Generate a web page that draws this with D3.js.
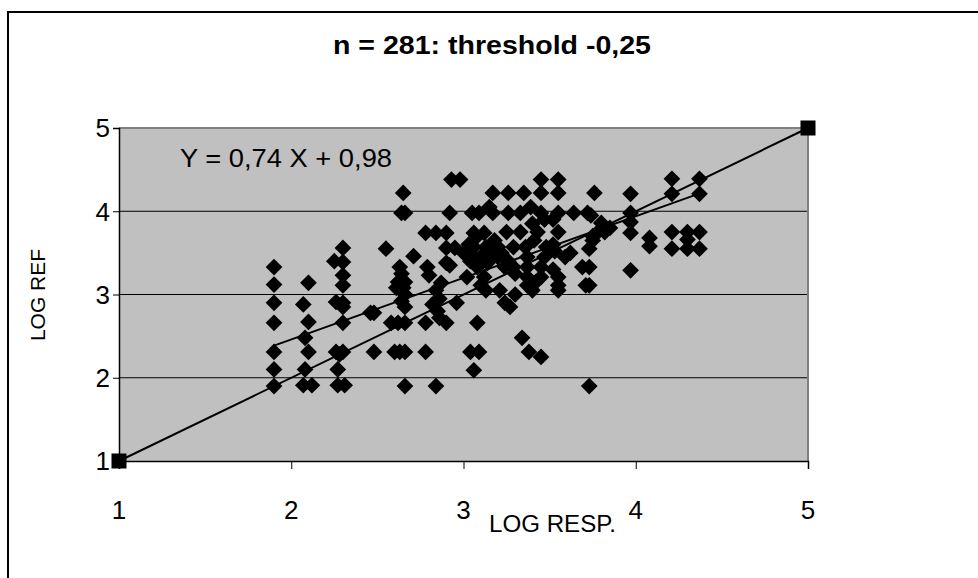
<!DOCTYPE html>
<html>
<head>
<meta charset="utf-8">
<script src="https://cdn.jsdelivr.net/npm/d3@7"></script>
<style>
  body { margin: 0; background: #fff; }
  text { font-family: Arial, "Liberation Sans", sans-serif; fill: #000; }
</style>
</head>
<body>
<script>
// values (LOG RESP. / LOG REF)
var respX = [
  1.90,1.90,1.90,1.90,1.90,1.90,1.90,
  2.10,2.07,2.10,2.08,2.10,2.08,2.07,2.12,
  2.30,2.25,2.30,2.30,2.30,2.26,2.30,2.30,2.30,2.26,2.30,2.28,2.27,2.27,2.31,
  2.46,2.48,2.48,2.55,
  2.58,2.62,2.66,2.60,2.63,2.66,2.66,2.63,2.64,2.62,2.66,2.61,2.65,2.66,2.64,2.66,2.64,2.66,2.65,2.71,
  2.78,2.84,2.90,2.79,2.80,2.78,2.78,2.84,2.90,2.87,2.84,2.86,2.82,2.85,2.86,2.90,2.96,2.90,
  2.93,2.98,2.92,2.95,2.92,
  3.05,3.09,3.06,3.12,3.06,3.13,3.06,3.10,3.08,3.04,3.02,3.12,3.10,3.13,3.08,3.04,3.09,3.06,3.00,3.03,3.07,3.15,3.15,3.14,
  3.17,3.26,3.17,3.26,3.25,3.20,3.29,3.20,3.24,3.29,3.21,3.24,3.27,3.22,3.18,3.30,3.30,3.26,
  3.35,3.45,3.45,3.33,3.45,3.39,3.33,3.43,3.36,3.48,3.37,3.47,3.37,3.45,3.37,3.45,3.37,3.40,3.34,3.38,3.45,3.40,3.47,3.41,3.42,
  3.55,3.55,3.55,3.55,3.52,3.55,3.55,3.55,3.59,3.53,3.52,3.52,
  3.64,3.72,3.62,3.76,3.69,3.73,3.71,3.73,3.73,3.73,3.75,3.80,3.78,3.82,3.85,3.75,3.74,
  3.97,3.97,3.97,3.97,3.97,
  4.08,4.08,
  4.21,4.21,4.21,4.21,
  4.30,4.30,4.30,
  4.37,4.37,4.37,4.37
];
var refY = [
  3.33,3.12,2.90,2.66,2.31,2.10,1.90,
  3.14,2.88,2.67,2.48,2.31,2.10,1.91,1.91,
  3.56,3.40,3.39,3.23,3.11,2.91,2.90,2.85,2.66,2.31,2.31,2.28,2.10,1.91,1.91,
  2.78,2.78,2.31,3.55,
  2.66,2.66,2.66,2.31,2.31,2.31,1.90,3.33,3.25,3.15,3.15,3.08,3.08,3.00,2.92,2.85,3.98,3.98,4.22,3.46,
  3.74,3.74,3.74,3.33,3.23,2.66,2.31,1.90,3.38,3.14,3.05,2.95,2.88,2.80,2.72,2.66,2.90,3.56,
  4.38,4.38,3.98,3.56,3.35,
  3.98,3.98,3.74,3.74,3.57,3.57,3.45,3.45,3.33,3.40,3.21,3.21,3.11,3.05,2.66,2.31,2.31,2.09,3.50,3.60,3.68,4.05,3.52,3.38,
  4.22,4.22,3.98,3.98,3.75,3.57,3.57,3.45,3.33,3.33,3.05,2.90,2.85,3.50,3.65,3.25,3.00,3.40,
  4.22,4.38,4.22,3.98,3.98,4.05,3.75,3.75,3.57,3.57,3.45,3.45,3.33,3.33,3.21,3.21,3.11,3.05,2.48,2.31,2.25,3.85,3.90,3.65,3.15,
  4.38,4.22,3.98,3.75,3.60,3.21,3.11,3.05,3.45,3.52,3.90,3.30,
  3.98,3.98,3.50,4.22,3.33,3.33,3.11,3.11,1.90,3.55,3.70,3.86,3.75,3.75,3.80,3.65,3.95,
  4.21,3.98,3.87,3.74,3.29,
  3.68,3.58,
  4.39,4.21,3.75,3.55,
  3.75,3.66,3.55,
  4.39,4.21,3.75,3.55
];
var axisTicks = [1, 2, 3, 4, 5];
var identity = [[1, 1], [5, 5]];
var slope = 0.74, intercept = 0.98, fitFrom = 1.90, fitTo = 4.38;
var titleText = "n = 281: threshold -0,25";
var fitLabel = "Y = 0,74 X + 0,98";

var width = 978, height = 578;

var svg = d3.select("body").append("svg")
    .attr("width", width)
    .attr("height", height);

// chart frame
svg.append("rect")
    .attr("x", 8).attr("y", 12)
    .attr("width", 1000).attr("height", 700)
    .attr("fill", "#fff")
    .attr("stroke", "#000")
    .attr("stroke-width", 2);

var x = d3.scaleLinear().domain([1, 5]).range([119, 808]);
var y = d3.scaleLinear().domain([1, 5]).range([461, 128]);

// plot area
svg.append("rect")
    .attr("x", x(1)).attr("y", y(5))
    .attr("width", x(5) - x(1)).attr("height", y(1) - y(5))
    .attr("fill", "#c0c0c0");

// gridlines
svg.selectAll(".grid")
    .data([2, 3, 4])
    .enter().append("line")
    .attr("x1", x(1)).attr("x2", x(5))
    .attr("y1", function(d){ return y(d); })
    .attr("y2", function(d){ return y(d); })
    .attr("stroke", "#000")
    .attr("stroke-width", 1);

// grey top / right border of plot area
svg.append("path")
    .attr("d", "M" + x(1) + "," + y(5) + "H" + x(5) + "V" + y(1))
    .attr("fill", "none")
    .attr("stroke", "#808080")
    .attr("stroke-width", 2);

// axes
var xAxis = svg.append("g")
    .attr("transform", "translate(0," + y(1) + ")")
    .call(d3.axisBottom(x).tickValues(axisTicks).tickSize(8).tickFormat(""));
var yAxis = svg.append("g")
    .attr("transform", "translate(" + x(1) + ",0)")
    .call(d3.axisLeft(y).tickValues(axisTicks).tickSize(6).tickFormat(""));
[xAxis, yAxis].forEach(function(g){
    g.select(".domain").attr("stroke", "#000").attr("stroke-width", 1.5);
    g.selectAll(".tick line").attr("stroke", "#000").attr("stroke-width", 1);
});

// tick labels
svg.selectAll(".xlab")
    .data(axisTicks)
    .enter().append("text")
    .attr("x", function(d){ return x(d); })
    .attr("y", 519)
    .attr("text-anchor", "middle")
    .style("font-size", "26px")
    .text(function(d){ return d; });

svg.selectAll(".ylab")
    .data(axisTicks)
    .enter().append("text")
    .attr("x", 110)
    .attr("y", function(d){ return y(d); })
    .attr("dy", "0.36em")
    .attr("text-anchor", "end")
    .style("font-size", "26px")
    .text(function(d){ return d; });

// scatter
var diamond = d3.symbol().type(d3.symbolSquare).size(140);
svg.selectAll(".pt")
    .data(d3.range(respX.length))
    .enter().append("path")
    .attr("d", diamond)
    .attr("transform", function(i){
        return "translate(" + x(respX[i]) + "," + y(refY[i]) + ") rotate(45)";
    })
    .attr("fill", "#000");

// y = x line with end squares
var line = d3.line()
    .x(function(d){ return x(d[0]); })
    .y(function(d){ return y(d[1]); });

svg.append("path")
    .datum(identity)
    .attr("d", line)
    .attr("fill", "none")
    .attr("stroke", "#000")
    .attr("stroke-width", 2);

svg.selectAll(".sq")
    .data(identity)
    .enter().append("rect")
    .attr("x", function(d){ return x(d[0]) - 7.5; })
    .attr("y", function(d){ return y(d[1]) - 7.5; })
    .attr("width", 15).attr("height", 15)
    .attr("fill", "#000");

// regression line
svg.append("path")
    .datum([fitFrom, fitTo].map(function(v){ return [v, slope * v + intercept]; }))
    .attr("d", line)
    .attr("fill", "none")
    .attr("stroke", "#000")
    .attr("stroke-width", 2);

// texts
svg.append("text")
    .attr("x", 492).attr("y", 54)
    .attr("text-anchor", "middle")
    .style("font-size", "25px")
    .style("font-weight", "bold")
    .attr("textLength", 318)
    .attr("lengthAdjust", "spacingAndGlyphs")
    .text(titleText);

svg.append("text")
    .attr("x", 180).attr("y", 167)
    .style("font-size", "26px")
    .attr("textLength", 212)
    .attr("lengthAdjust", "spacingAndGlyphs")
    .text(fitLabel);

svg.append("text")
    .attr("x", 489).attr("y", 532)
    .style("font-size", "23px")
    .attr("textLength", 127)
    .attr("lengthAdjust", "spacingAndGlyphs")
    .text("LOG RESP.");

svg.append("text")
    .attr("transform", "translate(45,295) rotate(-90)")
    .attr("text-anchor", "middle")
    .style("font-size", "21px")
    .text("LOG REF");
</script>
</body>
</html>
